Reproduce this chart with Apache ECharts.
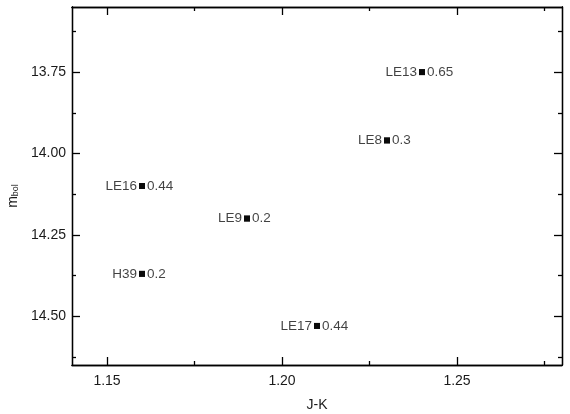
<!DOCTYPE html>
<html><head><meta charset="utf-8">
<script src="https://cdn.jsdelivr.net/npm/echarts@6/dist/echarts.min.js"></script>
<style>html,body{margin:0;padding:0;background:#fff}#c{width:570px;height:414px}</style>
</head><body><div id="c"></div>
<script>
const names = ['LE13', 'LE8', 'LE16', 'LE9', 'H39', 'LE17'];
const jk = [1.24, 1.23, 1.16, 1.19, 1.16, 1.21];
const mbol = [13.75, 13.96, 14.10, 14.20, 14.37, 14.53];
const tags = ['0.65', '0.3', '0.44', '0.2', '0.2', '0.44'];
const xMajor = [1.15, 1.20, 1.25];
const xMinor = [1.175, 1.225, 1.275];
const yMajor = [13.75, 14.00, 14.25, 14.50];
const yMinor = [13.625, 13.875, 14.125, 14.375, 14.625];

const FONT = '"Liberation Sans", Arial, sans-serif';
const pts = names.map((n, i) => ({ name: n, value: [jk[i], mbol[i]], tag: tags[i] }));

function xAx(pos, ticks, len, labels) {
  return {
    type: 'value', position: pos, min: 1.14, max: 1.28,
    axisLine: { show: true, onZero: false, lineStyle: { color: '#000', width: 1.3 } },
    axisTick: { show: true, inside: true, length: len, customValues: ticks, lineStyle: { color: '#000', width: 1.3 } },
    axisLabel: labels ? { show: true, customValues: xMajor, formatter: v => v.toFixed(2), color: '#1a1a1a', fontSize: 14, fontFamily: FONT, margin: 9 } : { show: false },
    splitLine: { show: false },
    name: labels ? 'J-K' : '', nameLocation: 'middle', nameGap: 33,
    nameTextStyle: { color: '#1a1a1a', fontSize: 14, fontFamily: FONT }
  };
}
function yAx(pos, ticks, len, labels) {
  return {
    type: 'value', position: pos, min: 13.55, max: 14.65, inverse: true,
    axisLine: { show: true, onZero: false, lineStyle: { color: '#000', width: 1.3 } },
    axisTick: { show: true, inside: true, length: len, customValues: ticks, lineStyle: { color: '#000', width: 1.3 } },
    axisLabel: labels ? { show: true, customValues: yMajor, formatter: v => v.toFixed(2), color: '#1a1a1a', fontSize: 14, fontFamily: FONT, margin: 6 } : { show: false },
    splitLine: { show: false }
  };
}

const chart = echarts.init(document.getElementById('c'));
chart.setOption({
  animation: false,
  grid: { left: 72, right: 8, top: 7, bottom: 49, containLabel: false, outerBoundsMode: 'none' },
  xAxis: [xAx('bottom', xMajor, 8, true), xAx('bottom', xMinor, 4, false), xAx('top', xMajor, 8, false), xAx('top', xMinor, 4, false)],
  yAxis: [yAx('left', yMajor, 8, true), yAx('left', yMinor, 4, false), yAx('right', yMajor, 8, false), yAx('right', yMinor, 4, false)],
  graphic: [{
    type: 'text', x: 12, y: 196, rotation: Math.PI / 2,
    style: {
      text: '{m|m}{s|bol}', align: 'center', verticalAlign: 'middle',
      rich: {
        m: { fontSize: 14, fontFamily: FONT, fill: '#1a1a1a', lineHeight: 16, verticalAlign: 'bottom' },
        s: { fontSize: 9, fontFamily: FONT, fill: '#1a1a1a', lineHeight: 16, verticalAlign: 'bottom', padding: [6, 0, 0, 0] }
      }
    }
  }],
  series: [
    {
      type: 'scatter', xAxisIndex: 0, yAxisIndex: 0, symbol: 'rect', symbolSize: 6,
      itemStyle: { color: '#000' }, data: pts,
      label: { show: true, position: 'left', distance: 2, formatter: p => p.data.name, color: '#111', fontSize: 13.5, fontFamily: FONT }
    },
    {
      type: 'scatter', xAxisIndex: 0, yAxisIndex: 0, symbol: 'rect', symbolSize: 6,
      itemStyle: { color: '#000' }, data: pts,
      label: { show: true, position: 'right', distance: 2, formatter: p => p.data.tag, color: '#111', fontSize: 13.5, fontFamily: FONT }
    }
  ]
});
</script></body></html>
